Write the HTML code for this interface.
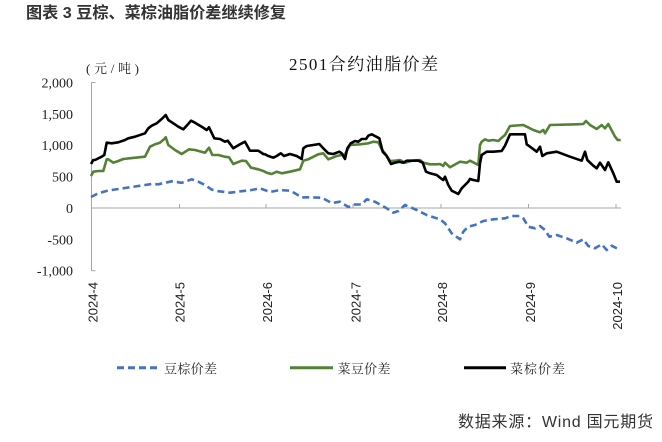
<!DOCTYPE html>
<html>
<head>
<meta charset="utf-8">
<style>
html,body{margin:0;padding:0;background:#fff;}
svg{display:block;}
</style>
</head>
<body>
<svg width="662" height="442" viewBox="0 0 662 442" xmlns="http://www.w3.org/2000/svg">
<rect x="0" y="0" width="662" height="442" fill="#fff"/>
<!-- Figure title -->
<text x="26" y="18" font-family="'Liberation Sans','Noto Sans CJK SC',sans-serif" font-size="16" font-weight="bold" fill="#333" textLength="260" lengthAdjust="spacingAndGlyphs">图表 3 豆棕、菜棕油脂价差继续修复</text>
<!-- Chart title -->
<text x="289" y="70" font-family="'Liberation Serif','Noto Serif CJK SC',serif" font-size="17" fill="#111" textLength="149" lengthAdjust="spacing">2501合约油脂价差</text>
<!-- unit -->
<text x="86" y="73" font-family="'Liberation Serif','Noto Serif CJK SC',serif" font-size="13" fill="#222" textLength="53" lengthAdjust="spacing">(元/吨)</text>

<!-- Y labels -->
<g font-family="'Liberation Serif',serif" font-size="14" fill="#222" text-anchor="end">
<text x="73" y="87.5">2,000</text>
<text x="73" y="118.8">1,500</text>
<text x="73" y="150.2">1,000</text>
<text x="73" y="181.5">500</text>
<text x="73" y="213">0</text>
<text x="73" y="244.3">-500</text>
<text x="73" y="275.7">-1,000</text>
</g>

<!-- Axes -->
<g stroke="#a6a6a6" stroke-width="1" fill="none">
<line x1="91.5" y1="82.5" x2="91.5" y2="270.7"/>
<line x1="91.5" y1="82.5" x2="95.5" y2="82.5"/>
<line x1="91.5" y1="270.7" x2="95.5" y2="270.7"/>
<line x1="91.5" y1="208" x2="621" y2="208"/>
<line x1="179.5" y1="204" x2="179.5" y2="208"/>
<line x1="266" y1="204" x2="266" y2="208"/>
<line x1="353" y1="204" x2="353" y2="208"/>
<line x1="441" y1="204" x2="441" y2="208"/>
<line x1="528.5" y1="204" x2="528.5" y2="208"/>
<line x1="616" y1="204" x2="616" y2="208"/>
</g>

<!-- X labels -->
<g font-family="'Liberation Sans',sans-serif" font-size="13" fill="#222" text-anchor="end">
<text transform="translate(97.5,282) rotate(-90)">2024-4</text>
<text transform="translate(184.5,282) rotate(-90)">2024-5</text>
<text transform="translate(272,282) rotate(-90)">2024-6</text>
<text transform="translate(360.5,282) rotate(-90)">2024-7</text>
<text transform="translate(447,282) rotate(-90)">2024-8</text>
<text transform="translate(535,282) rotate(-90)">2024-9</text>
<text transform="translate(622,282) rotate(-90)">2024-10</text>
</g>

<!-- Series: 豆棕价差 (blue dashed) -->
<polyline fill="none" stroke="#4472c4" stroke-width="2.6" stroke-dasharray="7 4" stroke-linejoin="round" points="
91,197 98.3,193.3 108.3,190.5 118.3,189 135,186.5 151.7,184 158.3,184.3 171.7,181.3 181.7,182.8 191.7,179.3 198.3,181.7 205,185 211.7,189.6 218.3,191.2 230,192.7 241.7,191.2 251.7,190 260,188.3 270,192 280,190 290,190.7 295,193.3 301.7,197.5 308.3,197.3 321.7,197.7 331.7,203 340,201.7 348.3,207 355,204.5 361.7,204.5 366.7,199.3 375,201.7 386.7,208.3 393.3,212.7 398.3,211 405,205 416.7,210 426.7,215 436.7,218.3 440,219.3 445,223.3 451.7,233.3 460,239.3 463.3,231.7 468.3,226.7 475,225 483.3,221 493.3,219.3 505,218.3 511.7,216 520,216 523.3,218.3 528.3,226.7 535,228.3 540,226 545,230 549.3,236.7 556.7,235 566.7,238.3 576.7,242.7 583.3,239.3 588.3,246 595,248.3 601.7,244.3 606.7,250 611.7,245.7 620,250"/>

<!-- Series: 菜豆价差 (green) -->
<polyline fill="none" stroke="#548235" stroke-width="2.6" stroke-linejoin="round" points="
91,176 93.3,171.7 98.3,171 103.3,171 106.7,159.3 108.3,159.3 113.3,162.7 118.3,161 123.3,159 145,156.7 150,146.7 155,144.3 160,142.7 164.3,139 165.7,137.3 168.3,145 175,150 181.7,154 189,149.3 195,150 205,152.7 209,147.7 212.3,155 218.3,155 225,156.7 229,157.3 233.3,164 241.7,160.7 246,161 251,167.7 258.3,169.3 263.3,171 266.7,172.7 271.7,174 276.7,171.7 281.7,173.3 290,171.7 300,169.3 303.3,160.7 308.3,159.3 318.3,154.3 323.3,153.3 328.3,159.3 336.7,156 345,154.3 350,145 360,144.3 368.3,143.3 373.3,141.7 378.3,142.3 381.7,149.3 385,153.3 390,161 395,160.7 400,160 405,162.7 411.7,160.7 420,160 423.3,162.7 430,164.3 436.7,164.3 440,164 443.3,166 445,162.7 450,167.3 460,161.7 466.7,162.7 470,160.7 478.3,165 480,145 481.7,141.7 485,139.3 488.3,140.7 493.3,140 498.3,141 501.7,137.7 505,135 510,126 523.3,125 526.7,126.7 533.3,130 540,132.3 543.3,130 545,133.3 550,125 576.7,124.3 583.3,124 586,121 590,125 596.7,129 601.7,125 605,128.3 608.3,124 615,136.7 617.7,140 620.7,140"/>

<!-- Series: 菜棕价差 (black) -->
<polyline fill="none" stroke="#000" stroke-width="2.6" stroke-linejoin="round" points="
91,164 93.3,160 95,160 101.7,156.7 104.3,155 106.7,142.7 111.7,143.3 118.3,142.3 125,140 128.3,138.3 135,136.7 145,133.3 148.3,128.3 151.7,125.7 156.7,123.3 161.7,119 165.7,115 168.3,120 173.3,123.3 178.3,126.7 183.3,129.3 186.7,125.7 191,120.7 195,122.7 201.7,126.7 206.7,130 209,127.3 214.3,138.3 220,139 225,141.7 227.7,140.7 233.3,148.3 240,144.3 245,141.7 250,150.7 258.3,150.7 263.3,154 265,154.3 268.3,156 273.3,157.7 276.7,156 280.7,153.3 284,156 290,154 296.7,156 301.7,159 303.3,148.3 306.7,146 313.3,145 319.3,144 323.3,148.3 328.3,153.3 333.3,154 339.3,151.7 341.7,153.3 345,159 347.3,148.3 350.7,143.3 355,141 358.3,141.7 361.7,139 366,139 368.3,135.7 371.7,134.3 375,136 379.3,138.3 382.7,151.7 386.7,156 391,164 395,162.7 399.3,161.7 403.3,162.7 406.7,160.7 418.3,160.7 422.7,162.7 426,171.7 430,173.3 436.7,175 441.7,179 443.3,180 445,176.7 448.3,185 451.7,190.7 458.3,194 461.7,188.3 465,185 468.3,181.7 470,179 473.3,180 478.3,181 480,163.3 481.7,155 486.7,151.7 493.3,151.7 501.7,151 505,145.7 510,134.3 525,134.3 526.7,144.3 530,146.7 536.7,151.7 540,146.7 542.3,156 546.7,153.3 556.7,151.7 570,156.7 581.7,160.7 585,151.7 587.3,160 593.3,165.7 596.7,168.3 600,162.7 605,170 608.3,162.3 613.3,173.3 616.7,181.7 620,181.7"/>

<!-- Legend -->
<line x1="117" y1="367.7" x2="157" y2="367.7" stroke="#4472c4" stroke-width="3" stroke-dasharray="7 4"/>
<line x1="290" y1="367.7" x2="333" y2="367.7" stroke="#548235" stroke-width="3"/>
<line x1="464" y1="367.7" x2="506" y2="367.7" stroke="#000" stroke-width="3"/>
<g font-family="'Liberation Serif','Noto Serif CJK SC',serif" font-size="13" fill="#222">
<text x="164" y="373.5" textLength="53" lengthAdjust="spacing">豆棕价差</text>
<text x="337.5" y="373.5" textLength="53" lengthAdjust="spacing">菜豆价差</text>
<text x="510" y="373.5" textLength="55" lengthAdjust="spacing">菜棕价差</text>
</g>

<!-- Footer -->
<text x="458" y="427" font-family="'Liberation Sans','Noto Sans CJK SC',sans-serif" font-size="16" fill="#333" textLength="195" lengthAdjust="spacing">数据来源：Wind 国元期货</text>
</svg>
</body>
</html>
